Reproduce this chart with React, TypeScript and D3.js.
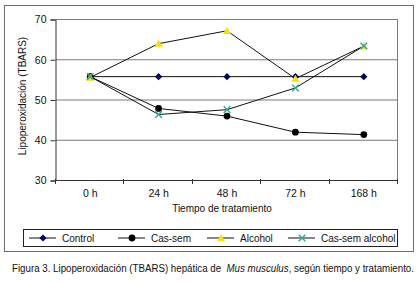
import React, { useEffect, useRef } from "react";
import * as d3 from "d3";

const categories = ["0 h", "24 h", "48 h", "72 h", "168 h"];
const control = [55.8, 55.8, 55.8, 55.8, 55.8];
const casSem = [55.8, 47.9, 46.0, 42.0, 41.4];
const alcohol = [55.6, 64.0, 67.2, 55.3, 63.4];
const casSemAlcohol = [55.8, 46.4, 47.6, 53.0, 63.4];
const yTicks = [30, 40, 50, 60, 70];
const seriesNames = ["Control", "Cas-sem", "Alcohol", "Cas-sem alcohol"];

const W = 420, H = 282;
const FONT = "'Liberation Sans', Arial, sans-serif";

type Shape = "diamond" | "circle" | "triangle" | "x";
const markers: { shape: Shape; color: string }[] = [
  { shape: "diamond", color: "#000066" },
  { shape: "circle", color: "#000000" },
  { shape: "triangle", color: "#FFE100" },
  { shape: "x", color: "#2BA6A0" },
];

function drawMarker(g: d3.Selection<SVGGElement, unknown, null, undefined>, shape: Shape, color: string, cx: number, cy: number) {
  if (shape === "diamond") {
    const r = 3.6;
    g.append("path").attr("d", `M${cx},${cy - r}L${cx + r},${cy}L${cx},${cy + r}L${cx - r},${cy}Z`).attr("fill", color);
  } else if (shape === "circle") {
    g.append("circle").attr("cx", cx).attr("cy", cy).attr("r", 3.4).attr("fill", color);
  } else if (shape === "triangle") {
    const r = 4;
    g.append("path").attr("d", `M${cx},${cy - r}L${cx + r},${cy + r * 0.8}L${cx - r},${cy + r * 0.8}Z`).attr("fill", color);
  } else {
    const r = 3.3;
    g.append("path").attr("d", `M${cx - r},${cy - r}L${cx + r},${cy + r}M${cx - r},${cy + r}L${cx + r},${cy - r}`)
      .attr("stroke", color).attr("stroke-width", 1.4).attr("fill", "none");
  }
}

export default function App() {
  const ref = useRef<SVGSVGElement>(null);
  useEffect(() => {
    const svg = d3.select(ref.current);
    svg.selectAll("*").remove();
    const series = [control, casSem, alcohol, casSemAlcohol];

    const x = d3.scaleBand<string>().domain(categories).range([56, 398]).padding(0);
    const y = d3.scaleLinear().domain([30, 70]).range([180.5, 19.5]);

    // outer frame
    svg.append("rect").attr("x", 4.5).attr("y", 5.5).attr("width", 409).attr("height", 246)
      .attr("fill", "#fff").attr("stroke", "#6e6e6e").attr("stroke-width", 1);

    // gridlines
    const grid = svg.append("g");
    yTicks.filter(t => t > 30).forEach(t => {
      grid.append("line").attr("x1", 56).attr("x2", 398).attr("y1", y(t)).attr("y2", y(t))
        .attr("stroke", "#7a7a7a").attr("stroke-width", 1);
    });
    // right plot border
    grid.append("line").attr("x1", 397.5).attr("x2", 397.5).attr("y1", y(70)).attr("y2", y(30))
      .attr("stroke", "#7a7a7a");

    // y axis
    const yAxis = d3.axisLeft(y).tickValues(yTicks).tickSize(5).tickPadding(4).tickFormat(d3.format("d"));
    const ya = svg.append("g").attr("transform", "translate(55.5,0)").call(yAxis);
    ya.select(".domain").attr("stroke", "#333");
    ya.selectAll(".tick line").attr("stroke", "#333");
    ya.selectAll("text").attr("font-family", FONT).attr("font-size", 10.5).attr("fill", "#111");

    // x axis
    const xa = svg.append("g");
    xa.append("line").attr("x1", 55.5).attr("x2", 398).attr("y1", 180.5).attr("y2", 180.5).attr("stroke", "#333");
    const bounds = categories.map(c => x(c)!).concat([x.range()[1]]);
    bounds.forEach(b => {
      const bx = Math.round(b) - 0.5;
      xa.append("line").attr("x1", bx).attr("x2", bx).attr("y1", 179).attr("y2", 184).attr("stroke", "#333");
    });
    categories.forEach(c => {
      xa.append("text").attr("x", x(c)! + x.bandwidth() / 2).attr("y", 197)
        .attr("text-anchor", "middle").attr("font-family", FONT).attr("font-size", 10.5).attr("fill", "#111").text(c);
    });

    // axis titles
    svg.append("text").attr("x", 222).attr("y", 212).attr("text-anchor", "middle")
      .attr("font-family", FONT).attr("font-size", 10).attr("fill", "#111").text("Tiempo de tratamiento");
    svg.append("text").attr("transform", "translate(26,96) rotate(-90)").attr("text-anchor", "middle")
      .attr("font-family", FONT).attr("font-size", 10).attr("fill", "#111").text("Lipoperoxidación (TBARS)");

    // lines
    const line = d3.line<number>().x((_, i) => x(categories[i])! + x.bandwidth() / 2).y(d => y(d));
    series.forEach(s => {
      svg.append("path").attr("d", line(s)).attr("fill", "none").attr("stroke", "#111").attr("stroke-width", 1);
    });
    // markers
    series.forEach((s, si) => {
      const g = svg.append("g");
      s.forEach((v, i) => drawMarker(g, markers[si].shape, markers[si].color, x(categories[i])! + x.bandwidth() / 2, y(v)));
    });

    // legend
    svg.append("rect").attr("x", 23.5).attr("y", 229.5).attr("width", 374).attr("height", 17)
      .attr("fill", "#fff").attr("stroke", "#222");
    const legendX = [29, 118, 207, 288];
    seriesNames.forEach((name, i) => {
      const lx = legendX[i];
      const ly = 238;
      svg.append("line").attr("x1", lx).attr("x2", lx + 27).attr("y1", ly).attr("y2", ly).attr("stroke", "#111");
      const g = svg.append("g");
      drawMarker(g, markers[i].shape, markers[i].color, lx + 14, ly);
      svg.append("text").attr("x", lx + 33).attr("y", ly + 3.6).attr("font-family", FONT).attr("font-size", 10)
        .attr("fill", "#111").text(name);
    });

    // caption
    const cap = svg.append("text").attr("x", 12).attr("y", 271.5).attr("font-family", FONT).attr("font-size", 10)
      .attr("fill", "#111").attr("textLength", 402).attr("lengthAdjust", "spacingAndGlyphs")
      .style("white-space", "pre");
    cap.append("tspan").text("Figura 3. Lipoperoxidación (TBARS) hepática de  ");
    cap.append("tspan").attr("font-style", "italic").text("Mus musculus");
    cap.append("tspan").text(", según tiempo y tratamiento.");
  }, []);

  return (
    <svg ref={ref} width={W} height={H} style={{ position: "absolute", left: 0, top: 0, display: "block", background: "#fff" }} />
  );
}
